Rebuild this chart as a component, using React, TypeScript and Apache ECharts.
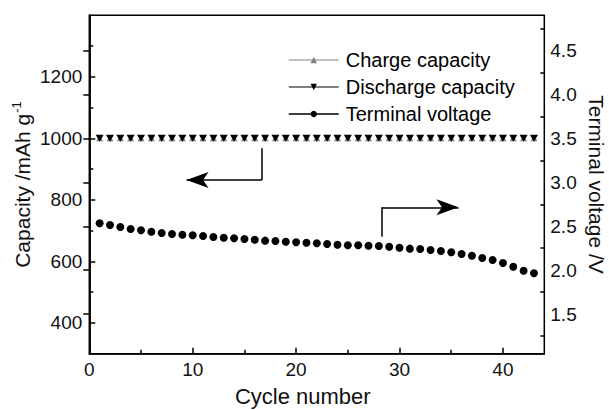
import React, { useEffect, useRef } from 'react';
import * as echarts from 'echarts';

const cycles = [1, 2, 3, 4, 5, 6, 7, 8, 9, 10, 11, 12, 13, 14, 15, 16, 17, 18, 19, 20, 21, 22, 23, 24, 25, 26, 27, 28, 29, 30, 31, 32, 33, 34, 35, 36, 37, 38, 39, 40, 41, 42, 43];
const chargeCapacity = [1000, 1000, 1000, 1000, 1000, 1000, 1000, 1000, 1000, 1000, 1000, 1000, 1000, 1000, 1000, 1000, 1000, 1000, 1000, 1000, 1000, 1000, 1000, 1000, 1000, 1000, 1000, 1000, 1000, 1000, 1000, 1000, 1000, 1000, 1000, 1000, 1000, 1000, 1000, 1000, 1000, 1000, 1000];
const dischargeCapacity = [1000, 1000, 1000, 1000, 1000, 1000, 1000, 1000, 1000, 1000, 1000, 1000, 1000, 1000, 1000, 1000, 1000, 1000, 1000, 1000, 1000, 1000, 1000, 1000, 1000, 1000, 1000, 1000, 1000, 1000, 1000, 1000, 1000, 1000, 1000, 1000, 1000, 1000, 1000, 1000, 1000, 1000, 1000];
const terminalVoltage = [2.534, 2.514, 2.491, 2.469, 2.454, 2.438, 2.423, 2.412, 2.404, 2.397, 2.389, 2.378, 2.37, 2.363, 2.355, 2.347, 2.336, 2.332, 2.324, 2.318, 2.313, 2.306, 2.298, 2.29, 2.283, 2.283, 2.279, 2.275, 2.267, 2.256, 2.245, 2.241, 2.23, 2.219, 2.204, 2.184, 2.165, 2.139, 2.116, 2.082, 2.04, 1.994, 1.965];

const cycleTicks = [0, 10, 20, 30, 40];
const cycleMinorTicks = [5, 15, 25, 35];
const capacityTicks = [400, 600, 800, 1000, 1200];
const capacityMinorTicks = [500, 700, 900, 1100, 1300];
const voltageTicks = [1.5, 2.0, 2.5, 3.0, 3.5, 4.0, 4.5];
const voltageMinorTicks = [1.25, 1.75, 2.25, 2.75, 3.25, 3.75, 4.25, 4.75];

// annotation arrows, in data coordinates (x: cycle, y: axis value)
const capacityArrow = [[16.7, 968], [16.7, 865], [9.4, 865]];
const voltageArrow = [[28.3, 2.381], [28.3, 2.716], [35.7, 2.716]];

const FONT = '"Liberation Sans", Arial, Helvetica, sans-serif';

function arrowLines(pts: number[][]) {
  return [
    [{ coord: pts[0], symbol: 'none' }, { coord: pts[1], symbol: 'none' }],
    [{ coord: pts[1], symbol: 'none' }, { coord: pts[2], symbol: 'arrow', symbolSize: [12, 22] }],
  ];
}

function arrowMarkLine(pts: number[][]) {
  return {
    silent: true,
    symbol: ['none', 'none'],
    label: { show: false },
    emphasis: { disabled: true },
    lineStyle: { color: '#000', width: 1.5, type: 'solid' },
    itemStyle: { color: '#000' },
    data: arrowLines(pts),
  };
}

export default function App() {
  const ref = useRef<HTMLDivElement>(null);
  useEffect(() => {
    if (!ref.current) return;
    const chart = echarts.init(ref.current, null, { renderer: 'svg' });
    const axisLine = { show: true, lineStyle: { color: '#000', width: 1.5 } };
    const labelStyle = { color: '#111', fontSize: 19, fontFamily: FONT };
    const option: any = {
      animation: false,
      backgroundColor: '#fff',
      grid: {
        left: 89.3,
        right: 64.7,
        top: 15.3,
        bottom: 56.3,
        containLabel: false,
        outerBoundsMode: 'none',
        show: true,
        borderColor: '#000',
        borderWidth: 1.5,
        backgroundColor: 'transparent',
      },
      legend: {
        orient: 'vertical',
        left: 288,
        top: 50,
        padding: 0,
        itemWidth: 50,
        itemHeight: 8,
        itemGap: 7,
        textStyle: { fontSize: 20, color: '#000', fontFamily: FONT, padding: [0, 0, 0, 2] },
        selectedMode: false,
        data: [
          { name: 'Charge capacity', lineStyle: { color: '#808080', width: 1.2, opacity: 1 }, itemStyle: { color: '#808080' } },
          { name: 'Discharge capacity', lineStyle: { color: '#000', width: 1.2, opacity: 1 }, itemStyle: { color: '#000' } },
          { name: 'Terminal voltage', lineStyle: { color: '#000', width: 1.5, opacity: 1 }, itemStyle: { color: '#000' } },
        ],
      },
      xAxis: [
        {
          type: 'value',
          min: 0,
          max: 44,
          position: 'bottom',
          name: 'Cycle number',
          nameLocation: 'middle',
          nameGap: 32,
          nameMoveOverlap: false,
          nameTextStyle: { fontSize: 22, color: '#111', fontFamily: FONT, padding: [0, 28, 0, 0] },
          axisLine,
          splitLine: { show: false },
          axisTick: { show: true, inside: true, length: 6, customValues: cycleTicks, lineStyle: { color: '#000', width: 1.5 } },
          axisLabel: { ...labelStyle, margin: 6, customValues: cycleTicks, formatter: (v: number) => String(v) },
        },
        {
          type: 'value',
          min: 0,
          max: 44,
          position: 'bottom',
          offset: 0,
          axisLine: { show: false },
          splitLine: { show: false },
          axisTick: { show: true, inside: true, length: 4, customValues: cycleMinorTicks, lineStyle: { color: '#000', width: 1.5 } },
          axisLabel: { show: false },
        },
      ],
      yAxis: [
        {
          type: 'value',
          min: 300,
          max: 1400,
          position: 'left',
          name: '{a|Capacity /mAh g}{b|-1}',
          nameLocation: 'middle',
          nameGap: 55,
          nameMoveOverlap: false,
          nameTextStyle: {
            color: '#111',
            fontFamily: FONT,
            fontSize: 21,
            rich: {
              a: { fontSize: 21, color: '#111', fontFamily: FONT, lineHeight: 24 },
              b: { fontSize: 13, color: '#111', fontFamily: FONT, verticalAlign: 'top', lineHeight: 24, padding: [0, 0, 0, 1] },
            },
          },
          axisLine,
          splitLine: { show: false },
          axisTick: { show: true, inside: true, length: 6, customValues: capacityTicks, lineStyle: { color: '#000', width: 1.5 } },
          axisLabel: { ...labelStyle, margin: 7, customValues: capacityTicks, formatter: (v: number) => String(v) },
        },
        {
          type: 'value',
          min: 1.05,
          max: 4.9,
          position: 'right',
          name: 'Terminal voltage /V',
          nameLocation: 'middle',
          nameRotate: -90,
          nameGap: 42,
          nameMoveOverlap: false,
          nameTextStyle: { fontSize: 21, color: '#111', fontFamily: FONT },
          axisLine,
          splitLine: { show: false },
          axisTick: { show: true, inside: true, length: 6, customValues: voltageTicks, lineStyle: { color: '#000', width: 1.5 } },
          axisLabel: { ...labelStyle, margin: 6, customValues: voltageTicks, formatter: (v: number) => v.toFixed(1) },
        },
        {
          type: 'value',
          min: 300,
          max: 1400,
          position: 'left',
          offset: 0,
          axisLine: { show: false },
          splitLine: { show: false },
          axisTick: { show: true, inside: true, length: 4, customValues: capacityMinorTicks, lineStyle: { color: '#000', width: 1.5 } },
          axisLabel: { show: false },
        },
        {
          type: 'value',
          min: 1.05,
          max: 4.9,
          position: 'right',
          offset: 0,
          axisLine: { show: false },
          splitLine: { show: false },
          axisTick: { show: true, inside: true, length: 4, customValues: voltageMinorTicks, lineStyle: { color: '#000', width: 1.5 } },
          axisLabel: { show: false },
        },
      ],
      series: [
        {
          name: 'Charge capacity',
          type: 'line',
          xAxisIndex: 0,
          yAxisIndex: 0,
          data: cycles.map((c, i) => [c, chargeCapacity[i]]),
          symbol: 'triangle',
          symbolSize: [7, 6],
          itemStyle: { color: '#808080' },
          lineStyle: { color: '#808080', opacity: 0 },
          z: 2,
        },
        {
          name: 'Discharge capacity',
          type: 'line',
          xAxisIndex: 0,
          yAxisIndex: 0,
          data: cycles.map((c, i) => [c, dischargeCapacity[i]]),
          symbol: 'triangle',
          symbolRotate: 180,
          symbolSize: [8, 7],
          itemStyle: { color: '#000' },
          lineStyle: { color: '#000', opacity: 0 },
          markLine: arrowMarkLine(capacityArrow),
          z: 3,
        },
        {
          name: 'Terminal voltage',
          type: 'line',
          xAxisIndex: 0,
          yAxisIndex: 1,
          data: cycles.map((c, i) => [c, terminalVoltage[i]]),
          symbol: 'circle',
          symbolSize: 8,
          itemStyle: { color: '#000' },
          lineStyle: { color: '#000', opacity: 0 },
          markLine: arrowMarkLine(voltageArrow),
          z: 3,
        },
      ],
    };
    chart.setOption(option);
    return () => chart.dispose();
  }, []);
  return (
    <div
      ref={ref}
      style={{ position: 'fixed', left: 0, top: 0, width: 609, height: 410, background: '#fff' }}
    />
  );
}
